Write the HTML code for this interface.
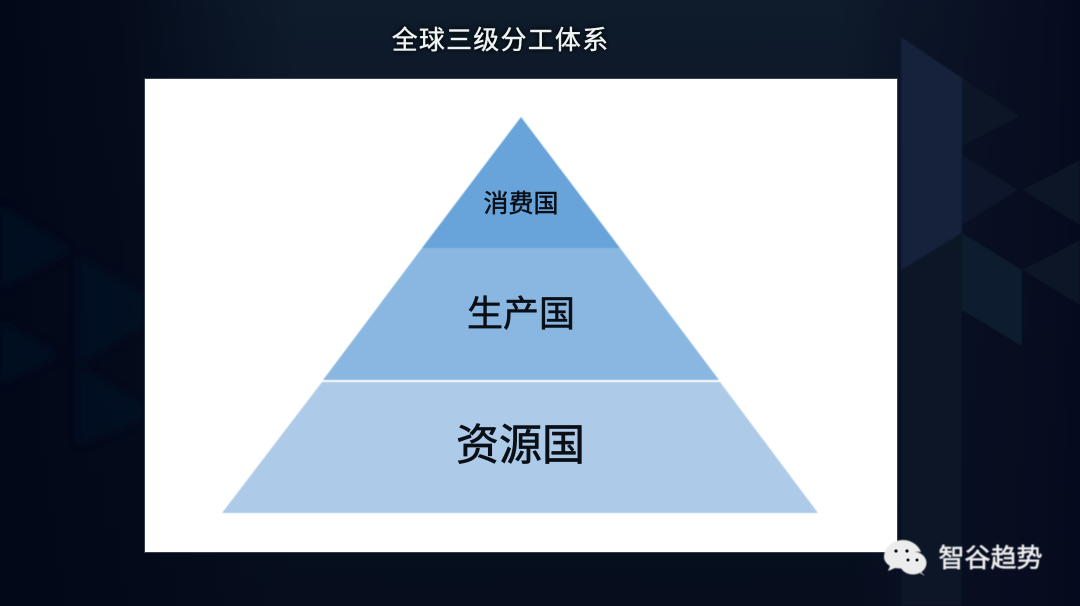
<!DOCTYPE html>
<html><head><meta charset="utf-8"><style>
html,body{margin:0;padding:0;width:1080px;height:606px;overflow:hidden;background:#050c1c}
svg{display:block}
text{font-family:"Liberation Sans","Noto Sans CJK SC",sans-serif;text-anchor:middle}
</style></head><body>
<svg width="1080" height="606" viewBox="0 0 1080 606" xmlns="http://www.w3.org/2000/svg">
<defs>
<linearGradient id="bg" x1="0" y1="0" x2="0" y2="1"><stop offset="0" stop-color="#0f1c2c"/><stop offset=".35" stop-color="#0b1526"/><stop offset="1" stop-color="#060e1d"/></linearGradient>
<linearGradient id="side" x1="0" y1="0" x2="1" y2="0"><stop offset="0" stop-color="#020818" stop-opacity="1"/><stop offset=".4" stop-color="#020818" stop-opacity=".8"/><stop offset="1" stop-color="#020818" stop-opacity="0"/></linearGradient>
<linearGradient id="sideR" x1="0" y1="0" x2="1" y2="0"><stop offset="0" stop-color="#070c20" stop-opacity="0"/><stop offset=".25" stop-color="#0a1024" stop-opacity=".55"/><stop offset="1" stop-color="#060a1e"/></linearGradient>
<filter id="b"><feGaussianBlur stdDeviation="0.5"/></filter>
<filter id="b1"><feGaussianBlur stdDeviation="1"/></filter>
<filter id="b2"><feGaussianBlur stdDeviation="5"/></filter>
<filter id="glow" x="-10%" y="-50%" width="120%" height="200%"><feGaussianBlur in="SourceAlpha" stdDeviation="3"/><feComponentTransfer><feFuncA type="linear" slope="1.4"/></feComponentTransfer><feMerge><feMergeNode/><feMergeNode in="SourceGraphic"/></feMerge></filter>
</defs>
<rect width="1080" height="606" fill="url(#bg)"/>
<rect width="300" height="606" fill="url(#side)"/>
<rect x="840" width="240" height="606" fill="url(#sideR)"/>
<g filter="url(#b2)" fill="#03142e" opacity=".45">
<polygon points="0,205 72,250 0,290"/>
<polygon points="78,255 145,295 145,325 78,365"/>
<polygon points="0,320 60,355 0,385"/>
<polygon points="78,365 145,405 145,420 78,445"/>
</g>
<g filter="url(#b1)">
<polygon points="901,37 962,78 962,233 901,270" fill="#15243a"/>
<polygon points="962,78 1020,116 962,146" fill="#0e1326"/>
<polygon points="962,155 1018,190 962,225" fill="#10182a"/>
<polygon points="962,233 1022,270 1022,346 962,310" fill="#111b2f"/>
<polygon points="901,270 962,233 962,606 901,606" fill="#0b1525"/>
<polygon points="1022,190 1080,160 1080,225" fill="#111628"/>
<polygon points="1022,270 1080,305 1080,240" fill="#0f1428"/>
</g>
<rect x="144" y="78" width="754" height="475" fill="#4a5468" opacity=".7"/>
<rect x="145" y="79" width="752" height="473" fill="#fff"/>
<g filter="url(#b)">
<polygon points="521,117 422,248 620,248" fill="#68a3d9"/>
<polygon points="422,248 620,248 719,380 323,380" fill="#8ab7e1"/>
<polygon points="322,382 720,382 818,513 222,513" fill="#adcbe8"/>
</g>
<g fill="#0a0f16" stroke="#0a0f16" stroke-linejoin="round">
<text x="521" y="212" font-size="25" stroke-width=".5">消费国</text>
<text x="521" y="326" font-size="36" stroke-width=".6">生产国</text>
<text x="520.500" y="460" font-size="43" stroke-width=".7">资源国</text>
</g>
<g filter="url(#glow)"><text x="500.500" y="49" font-size="26" letter-spacing="1.2" fill="#eef5f5" stroke="#eef5f5" stroke-width=".3">全球三级分工体系</text></g>
<g fill="#ececec" filter="url(#b)">
<path d="M884 557 C884 547 893 540 903 540 C912 540 919 546 921 552 C911 550 902 556 902 565 C902 566 902 567 903 568 C900 569 897 568 895 568 L888 571 L890 566 C887 564 884 561 884 557Z"/>
<ellipse cx="913" cy="563" rx="13.500" ry="11.500"/>
<path d="M921 572 L925 576 L920 573Z"/>
</g>
<g fill="#0a1020"><circle cx="896" cy="551" r="1.600"/><circle cx="907" cy="551" r="1.600"/><circle cx="908" cy="560" r="1.500"/><circle cx="917" cy="560" r="1.500"/></g>
<g filter="url(#b)"><text x="990.500" y="567" font-size="26" fill="#ececec" stroke="#ececec" stroke-width=".6">智谷趋势</text></g>
</svg>
</body></html>
